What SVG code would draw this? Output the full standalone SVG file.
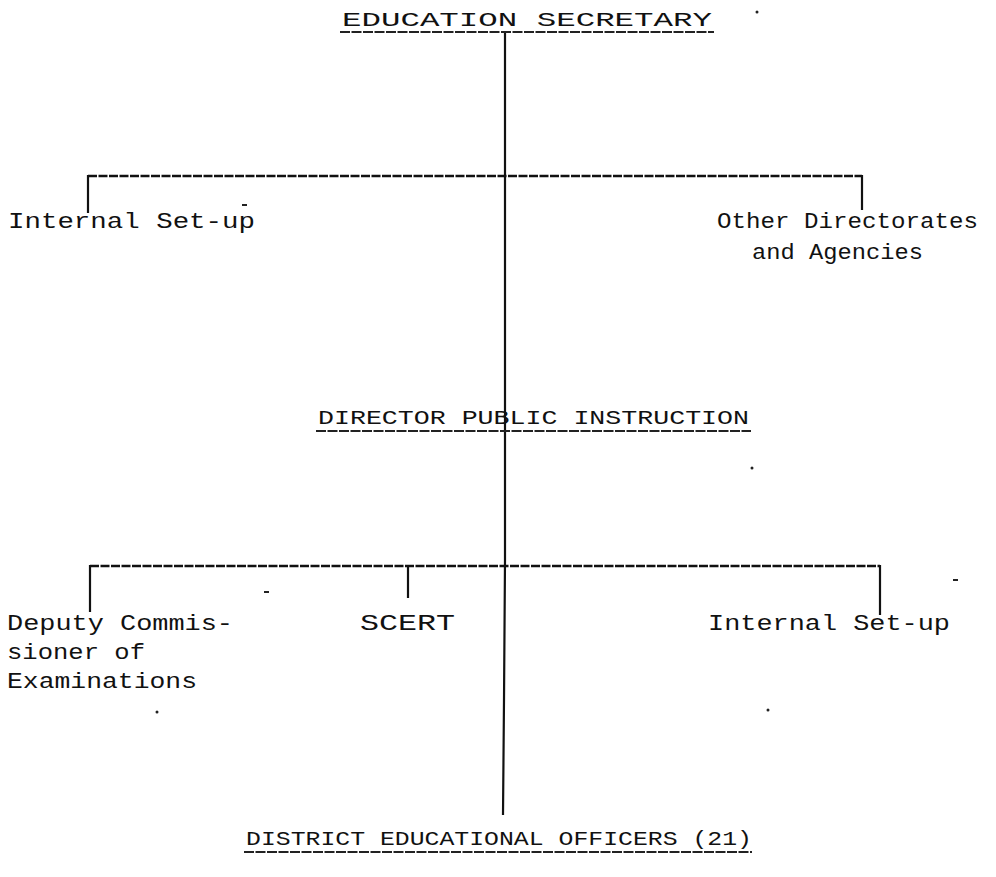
<svg xmlns="http://www.w3.org/2000/svg" width="996" height="877" viewBox="0 0 996 877">
<style>
text{font-family:"Liberation Mono","DejaVu Sans Mono",monospace;font-size:22px;fill:#111}
.h{font-size:21px}
.v{stroke:#111;stroke-width:2.2;fill:none}
.d{stroke:#111;stroke-width:2.6;fill:none;stroke-dasharray:9 1.5}
.u{stroke:#222;stroke-width:2.2;fill:none;stroke-dasharray:10 1.5}
.dot{fill:#222}
</style>
<rect width="996" height="877" fill="#fff"/>
<g id="connectors">
<polyline class="v" points="505,31 505,560 504,700 503,815"/>
<line class="d" x1="88" y1="176" x2="862" y2="176"/>
<line class="v" x1="88" y1="175" x2="88" y2="213"/>
<line class="v" x1="862" y1="175" x2="862" y2="210"/>
<line class="d" x1="90" y1="566" x2="880" y2="566"/>
<line class="v" x1="90" y1="565" x2="90" y2="612"/>
<line class="v" x1="408" y1="565" x2="408" y2="598"/>
<line class="v" x1="880" y1="565" x2="880" y2="615"/>
</g>
<g id="education-secretary">
<text class="h" x="342" y="26" textLength="370" lengthAdjust="spacingAndGlyphs">EDUCATION SECRETARY</text>
<line class="u" x1="340" y1="32" x2="714" y2="32"/>
</g>
<g id="internal-setup-1">
<text x="8" y="228" textLength="247" lengthAdjust="spacingAndGlyphs">Internal Set-up</text>
</g>
<g id="other-directorates">
<text x="717" y="228" textLength="261" lengthAdjust="spacingAndGlyphs">Other Directorates</text>
<text x="752" y="259" textLength="171" lengthAdjust="spacingAndGlyphs">and Agencies</text>
</g>
<g id="director-public-instruction">
<text class="h" x="318" y="424" textLength="431" lengthAdjust="spacingAndGlyphs">DIRECTOR PUBLIC INSTRUCTION</text>
<line class="u" x1="316" y1="431" x2="751" y2="431"/>
</g>
<g id="deputy-commissioner">
<text x="7" y="630" textLength="226" lengthAdjust="spacingAndGlyphs">Deputy Commis-</text>
<text x="7" y="659" textLength="138" lengthAdjust="spacingAndGlyphs">sioner of</text>
<text x="7" y="688" textLength="190" lengthAdjust="spacingAndGlyphs">Examinations</text>
</g>
<g id="scert">
<text x="360" y="630" textLength="95" lengthAdjust="spacingAndGlyphs">SCERT</text>
</g>
<g id="internal-setup-2">
<text x="708" y="630" textLength="242" lengthAdjust="spacingAndGlyphs">Internal Set-up</text>
</g>
<g id="district-officers">
<text class="h" x="246" y="845" textLength="506" lengthAdjust="spacingAndGlyphs">DISTRICT EDUCATIONAL OFFICERS (21)</text>
<line class="u" x1="244" y1="852" x2="752" y2="852"/>
</g>
<g id="specks">
<circle class="dot" cx="757" cy="12" r="1.5"/>
<circle class="dot" cx="752" cy="468" r="1.5"/>
<circle class="dot" cx="157" cy="712" r="1.5"/>
<circle class="dot" cx="768" cy="710" r="1.5"/>
<rect class="dot" x="242" y="204" width="5" height="2"/>
<rect class="dot" x="264" y="591" width="5" height="2"/>
<rect class="dot" x="953" y="579" width="5" height="2"/>
</g>
</svg>
